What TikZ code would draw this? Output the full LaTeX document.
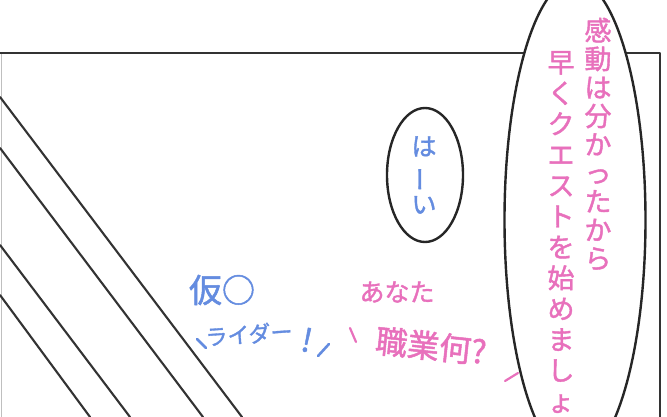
\documentclass[tikz,border=0pt]{standalone}
\usepackage{fontspec}
\newfontfamily\jpfont[FakeBold=1.5]{Noto Sans CJK JP}
\usetikzlibrary{shapes.geometric}

\definecolor{pinkink}{RGB}{232,112,188}
\definecolor{blueink}{RGB}{100,140,224}

\begin{document}
\begin{tikzpicture}[
            x = 1pt, y = -1pt, % one unit per pixel, y downwards
            line cap = round,
            line join = round
        ]

        \tikzstyle{panel line}=[
            draw = black!80,
            line width = 2.4pt
        ]

        \tikzstyle{balloon}=[
            ellipse,
            draw = black!85,
            line width = 2.4pt,
            fill = white,
            inner sep = 0pt
        ]

        \tikzstyle{ink}=[
            inner sep = 0pt,
            align = center,
            font = \jpfont
        ]

        % page size and paper
        \useasboundingbox (0,0) rectangle (667,417);
        \fill[white] (0,0) rectangle (667,417);
        \clip (0,0) rectangle (667,417);

        % panel frame
        \draw[black!25, line width = 1pt] (1,53) -- (1,417);
        \draw[panel line] (0,53) -- (660,53) -- (660,417);

        % speed lines
        \draw[panel line, line width = 2.1pt] (0,97) -- (242,417);
        \draw[panel line, line width = 2.1pt] (0,148) -- (203,417);
        \draw[panel line, line width = 2.1pt] (0,245) -- (130,417);
        \draw[panel line, line width = 2.1pt] (0,295) -- (90,417);

        % balloons
        \node[balloon, minimum width = 141pt, minimum height = 480pt] (big) at (575,220) {};
        \node[balloon, minimum width = 76pt, minimum height = 134pt] (small) at (425,175) {};

        % big balloon, two columns
        \node[ink, text = pinkink, font = \jpfont\fontsize{27}{28.5}\selectfont] (colR) at (598,144)
            {感\\動\\は\\分\\か\\っ\\た\\か\\ら};
        \node[ink, text = pinkink, font = \jpfont\fontsize{27}{30.8}\selectfont] (colL) at (561,232)
            {早\\く\\ク\\エ\\ス\\ト\\を\\始\\め\\ま\\し\\ょ};

        % small balloon
        \node[ink, text = blueink, font = \jpfont\fontsize{25}{29}\selectfont] (hai) at (424,175)
            {は\\\rotatebox[origin=c]{90}{ー}\\い};

        % loose text, blue
        \node[ink, text = blueink, font = \jpfont\fontsize{33}{35}\selectfont] (kamen) at (222,290) {仮○};
        \node[ink, text = blueink, font = \jpfont\fontsize{22}{24}\selectfont, rotate = 4] (rider) at (249,334) {ライダー};
        \node[ink, text = blueink, font = \jpfont\fontsize{32}{34}\selectfont, rotate = -12] (bang) at (307,340) {!};
        \draw[blueink, line width = 2.6pt] (197,339) -- (206,348);
        \draw[blueink, line width = 2.6pt] (318,356) -- (329,344);

        % loose text, pink
        \node[ink, text = pinkink, font = \jpfont\fontsize{25}{27}\selectfont] (anata) at (397,292) {あなた};
        \node[ink, text = pinkink, font = \jpfont\fontsize{32}{34}\selectfont, rotate = -6] (shokugyo) at (431,346) {職業何?};
        \draw[pinkink, line width = 2.2pt] (350,328) -- (356,342);
        \draw[pinkink, line width = 2.2pt] (505,381) -- (518,373);

    \end{tikzpicture}
\end{document}
